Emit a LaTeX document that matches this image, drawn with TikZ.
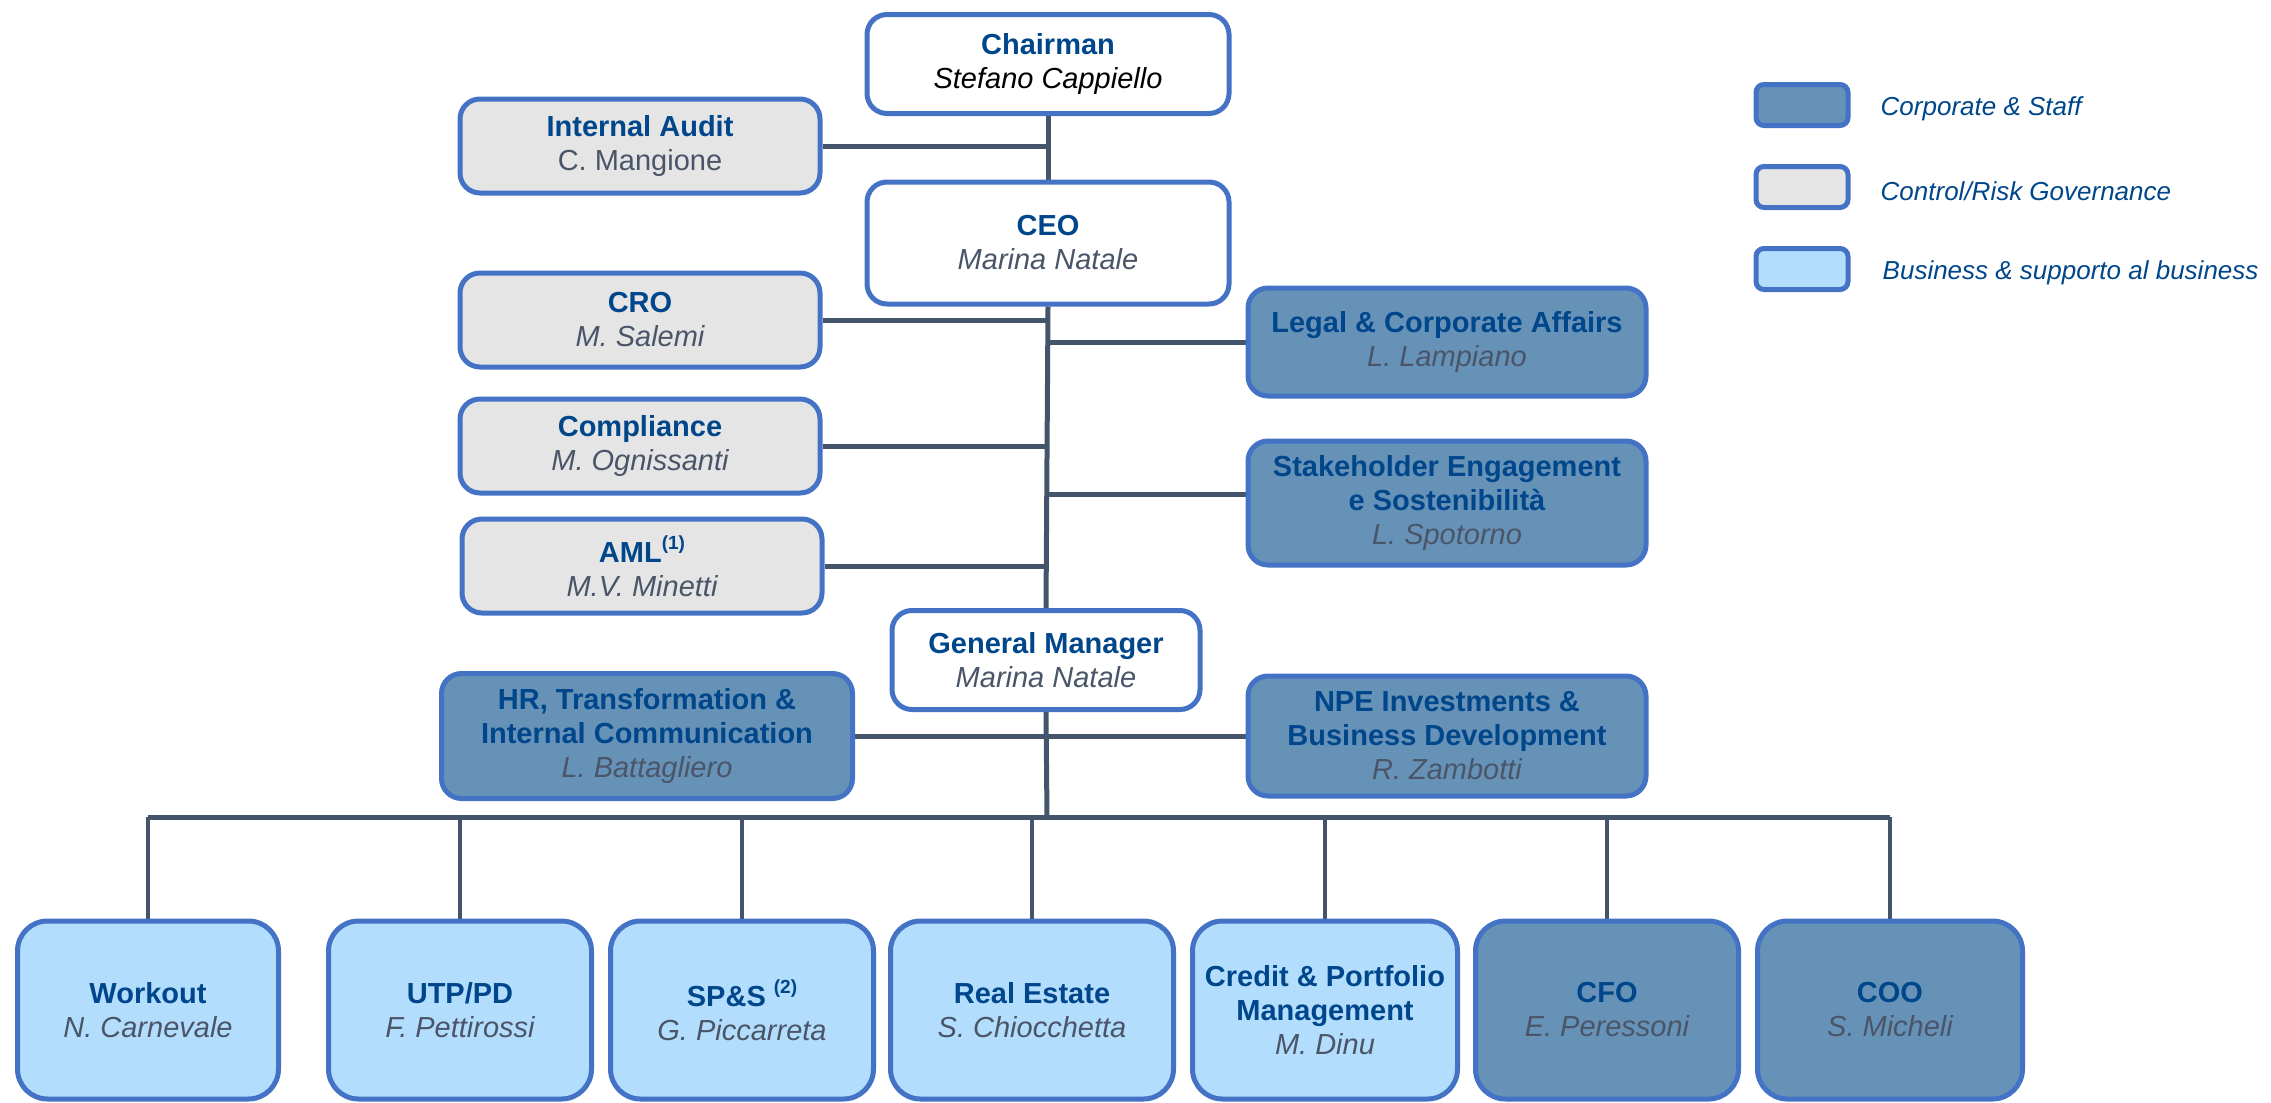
\documentclass[tikz,border=0pt]{standalone}
\usepackage{fontspec}
\setmainfont{Liberation Sans}
\usetikzlibrary{positioning,backgrounds}
\definecolor{titleblue}{HTML}{00468B}
\definecolor{namegray}{HTML}{4A5568}
\definecolor{boxline}{HTML}{4472C4}
\definecolor{corpfill}{HTML}{6792B8}
\definecolor{ctrlfill}{HTML}{E5E5E5}
\definecolor{busfill}{HTML}{B3DDFD}
\definecolor{linkgray}{HTML}{44546A}
\newcommand{\person}[1]{\\{\mdseries\itshape\color{namegray}#1}}
\newcommand{\fnote}[1]{\raisebox{0.45em}{\fontsize{19}{19}\selectfont(#1)}}
\tikzset{
	unit/.style={draw=boxline, line width=5pt, rounded corners=20pt, align=center, inner sep=0pt,
		font=\fontsize{29}{34}\selectfont\bfseries, text=titleblue},
	topbox/.style={unit, fill=white, minimum width=362pt},
	ctrlbox/.style={unit, fill=ctrlfill, minimum width=360pt, minimum height=94pt},
	corpbox/.style={unit, fill=corpfill, minimum width=398pt},
	busbox/.style={unit, rounded corners=30pt, minimum height=178pt},
	link/.style={draw=linkgray, line width=5pt},
	drop/.style={draw=linkgray, line width=4pt},
	legendbox/.style={draw=boxline, line width=5pt, rounded corners=8pt, minimum width=92pt, minimum height=41pt},
	legendtext/.style={inner sep=0pt, yshift=-4pt, text=titleblue, font=\fontsize{26}{31}\selectfont\itshape}
}
\begin{document}
\begin{tikzpicture}[x=1pt,y=-1pt]
	\useasboundingbox (0,0) rectangle (2271,1103);
	\node[topbox, minimum height=99pt] (chair) at (1048,64) {Chairman\\{\mdseries\itshape\color{black}Stefano Cappiello}};
	\node[ctrlbox] (audit) at (640,146) {Internal Audit\\{\mdseries\color{namegray}C. Mangione}};
	\node[topbox, minimum height=122pt] (ceo) at (1048,243) {CEO\person{Marina Natale}};
	\node[ctrlbox] (cro) at (640,320) {CRO\person{M. Salemi}};
	\node[corpbox, minimum height=108pt] (legal) at (1447,342) {Legal \& Corporate Affairs\person{L. Lampiano}};
	\node[ctrlbox] (comp) at (640,446) {Compliance\person{M. Ognissanti}};
	\node[corpbox, minimum height=124pt] (stake) at (1447,503) {Stakeholder Engagement\\e Sostenibilità\person{L. Spotorno}};
	\node[ctrlbox] (aml) at (642,566) {AML\fnote{1}\person{M.V. Minetti}};
	\node[topbox, minimum width=308pt, minimum height=99pt] (gm) at (1046,660) {General Manager\person{Marina Natale}};
	\node[corpbox, minimum width=411pt, minimum height=125pt] (hr) at (647,736) {HR, Transformation \&\\Internal Communication\person{L. Battagliero}};
	\node[corpbox, minimum height=120pt] (npe) at (1447,736) {NPE Investments \&\\Business Development\person{R. Zambotti}};
	\coordinate (bar) at (1047,817);

	\node[busbox, fill=busfill, minimum width=261pt] (work) at (148,1010) {Workout\person{N. Carnevale}};
	\node[busbox, fill=busfill, minimum width=263pt] (utp) at (460,1010) {UTP/PD\person{F. Pettirossi}};
	\node[busbox, fill=busfill, minimum width=263pt] (sps) at (742,1010) {SP\&S \fnote{2}\person{G. Piccarreta}};
	\node[busbox, fill=busfill, minimum width=283pt] (real) at (1032,1010) {Real Estate\person{S. Chiocchetta}};
	\node[busbox, fill=busfill, minimum width=265pt] (credit) at (1325,1010) {Credit \& Portfolio\\Management\person{M. Dinu}};
	\node[busbox, fill=corpfill, minimum width=263pt] (cfo) at (1607,1010) {CFO\person{E. Peressoni}};
	\node[busbox, fill=corpfill, minimum width=265pt] (coo) at (1890,1010) {COO\person{S. Micheli}};

	\begin{scope}[on background layer]
		\draw[link] (chair.south) -- (ceo.north);
		\draw[link] (ceo.south) -- (gm.north);
		\draw[link] (gm.south) -- (bar);
		\draw[link] (audit.east) -- (audit.east -| chair.south);
		\draw[link] (cro.east) -- (cro.east -| ceo.south);
		\draw[link] (legal.west) -- (legal.west -| ceo.south);
		\draw[link] (comp.east) -- (comp.east -| ceo.south);
		\draw[link] ([yshift=9pt]stake.west) -- ([yshift=9pt]stake.west -| ceo.south);
		\draw[link] (aml.east) -- (aml.east -| ceo.south);
		\draw[link] (hr.east) -- (npe.west);
		\draw[link] (bar -| work.north) -- (bar -| coo.north);
		\foreach \n in {work,utp,sps,real,credit,cfo,coo}
			\draw[drop] (bar -| \n.north) -- (\n.north);
	\end{scope}

	\node[legendbox, fill=corpfill] (lcorp) at (1802,105) {};
	\node[legendbox, fill=ctrlfill] (lctrl) at (1802,187) {};
	\node[legendbox, fill=busfill] (lbus) at (1802,269) {};
	\node[legendtext, right=30pt of lcorp] (lcorptext) {Corporate \& Staff};
	\node[legendtext, right=30pt of lctrl] (lctrltext) {Control/Risk Governance};
	\node[legendtext, right=32pt of lbus] (lbustext) {Business \& supporto al business};
\end{tikzpicture}
\end{document}
